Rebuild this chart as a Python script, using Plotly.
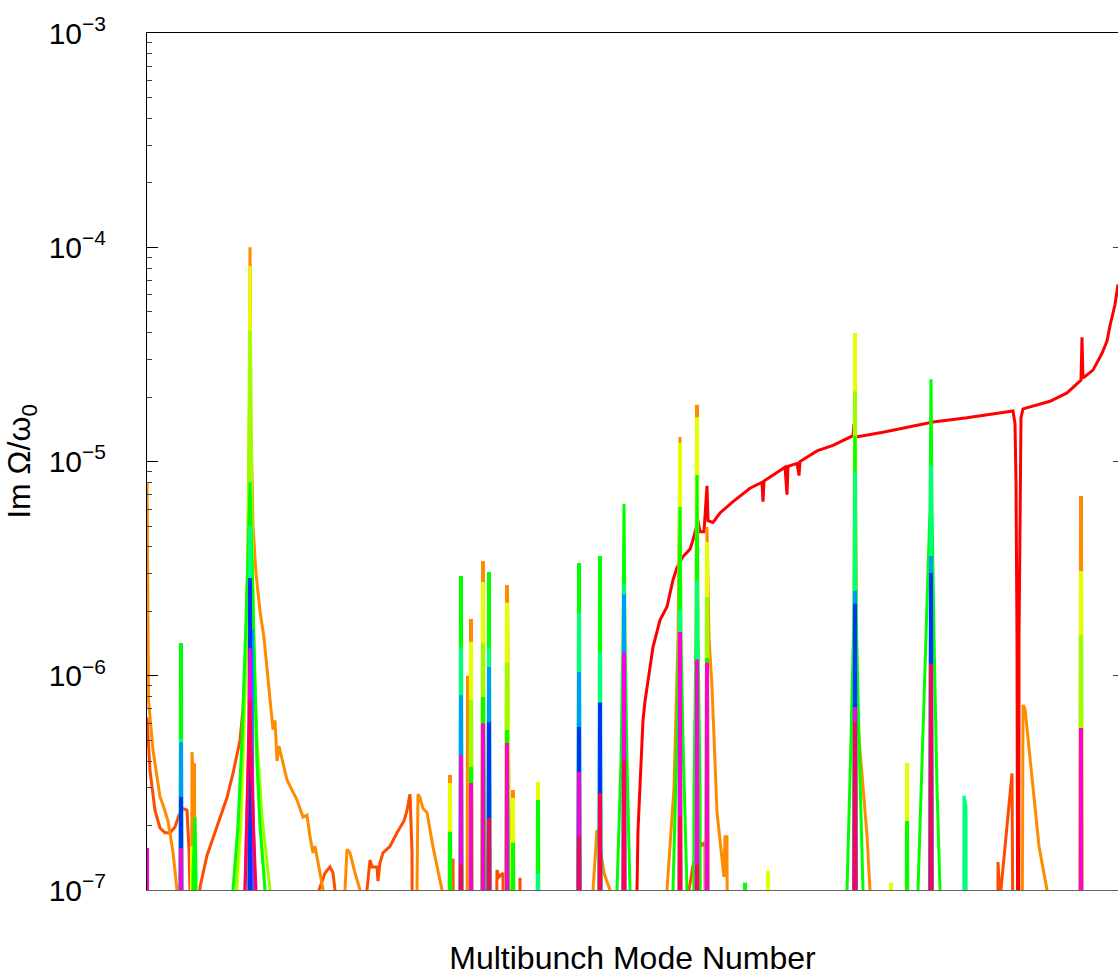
import plotly.graph_objects as go

LOW = 1e-9  # growth rate below the displayed range (damped / negligible)

# ---------------- axis ----------------
mode_range = [0, 971]
y_decades = [1e-7, 1e-6, 1e-5, 1e-4, 1e-3]
y_ticktext = ["10<sup>−7</sup>", "10<sup>−6</sup>", "10<sup>−5</sup>", "10<sup>−4</sup>", "10<sup>−3</sup>"]

# ---------------- continuous curves (mode number, Im Omega/omega0) ----------------
red_x = [489, 490, 491, 493, 496, 498, 501, 506, 513, 520, 526, 530, 536, 543, 546, 551, 553, 557, 560, 561,
         566, 573, 586, 603, 615, 616, 617, 638, 640, 641, 650, 652, 653, 670, 686, 706, 707, 709, 736, 786,
         820, 866, 868, 869, 870, 870.5, 871.5, 872, 873, 874, 876, 903, 920, 931, 934, 935, 936, 946, 955,
         960, 963, 968, 971]
red_y = [LOW, 1.0e-7, 1.9e-7, 3.3e-7, 6.2e-7, 7.6e-7, 9.6e-7, 1.36e-6, 1.82e-6, 2.1e-6, 2.8e-6, 3.2e-6, 3.6e-6,
         3.9e-6, 4.3e-6, 5.3e-6, 4.7e-6, 4.7e-6, 7.7e-6, 5.3e-6, 5.2e-6, 5.75e-6, 6.5e-6, 7.5e-6, 8.0e-6, 6.5e-6,
         8.1e-6, 9.4e-6, 7.0e-6, 9.5e-6, 9.8e-6, 8.6e-6, 1.0e-5, 1.12e-5, 1.19e-5, 1.32e-5, 1.5e-5, 1.3e-5,
         1.37e-5, 1.53e-5, 1.6e-5, 1.72e-5, 1.5e-5, 8e-6, 1.5e-6, LOW, LOW, 1.5e-6, 8e-6, 1.6e-5, 1.76e-5,
         1.91e-5, 2.09e-5, 2.35e-5, 2.4e-5, 3.8e-5, 2.45e-5, 2.67e-5, 3.2e-5, 3.65e-5, 4.3e-5, 5.4e-5, 6.7e-5]

orangered_x = [0, 3, 8, 13, 18, 23, 28, 32, 36, 40, 42, 43, 44,
               51, 53, 60, 67, 73, 80, 86, 93, 96, 99, 101, 103, 104,
               171, 172, 178, 183, 186, 188, 189,
               219, 220, 223, 225, 230, 231, 233, 236, 243, 250, 257, 260, 263, 265, 266,
               305, 306, 307, 345, 350, 352, 356, 357, 372, 373, 374,
               541, 542, 546, 553, 555, 558, 559,
               850, 851, 853, 865, 868]
orangered_y = [6.4e-7, 3.6e-7, 2.35e-7, 1.95e-7, 1.85e-7, 1.85e-7, 1.97e-7, 2.24e-7, 2.4e-7, 2.36e-7, 1.54e-7, 1.0e-7, LOW,
               LOW, 1.03e-7, 1.45e-7, 1.8e-7, 2.15e-7, 2.7e-7, 3.5e-7, 5.0e-7, 7.0e-7, 1.3e-6, 4e-6, 3e-5, LOW,
               LOW, 1.0e-7, 1.2e-7, 1.28e-7, 1.2e-7, 1.0e-7, LOW,
               LOW, 1.0e-7, 1.38e-7, 1.28e-7, 1.28e-7, 1.1e-7, 1.34e-7, 1.49e-7, 1.6e-7, 1.85e-7, 2.1e-7, 2.35e-7, 2.8e-7, 1.5e-7, LOW,
               LOW, 1.4e-7, LOW, LOW, 1.24e-7, 1.15e-7, 1.2e-7, LOW, LOW, 1.14e-7, LOW,
               LOW, 1.0e-7, 1.3e-7, 1.67e-7, 1.62e-7, 1.67e-7, LOW,
               LOW, 1.35e-7, 9e-8, 3.5e-7, LOW]

orange_x = [0, 0.5, 1.5, 6, 13, 16, 21, 26, 30, 31,
            44, 45, 46, 47.5, 49,
            101, 103, 104, 106, 109, 113, 117, 120, 123, 126, 128, 130, 132, 140, 150, 156, 160, 163, 166, 168, 173, 176, 177,
            197, 198, 200, 203, 208, 213, 214,
            269, 270, 271, 273, 276, 280, 286, 290, 295, 296,
            445, 446, 450, 452, 457, 463, 464,
            518, 520, 527, 531, 533, 534,
            559, 560, 562, 565, 570, 575, 577, 578, 580, 581,
            707, 708, 710, 713, 716, 720, 723, 724,
            874, 875, 876, 878, 885, 892, 900, 901]
orange_y = [8e-6, 2e-6, 7.7e-7, 4.5e-7, 2.72e-7, 2.5e-7, 2.1e-7, 1.5e-7, 1e-7, LOW,
            LOW, 4.4e-7, 3.5e-7, 3.9e-7, LOW,
            LOW, 1e-4, 1.5e-5, 5e-6, 3e-6, 2e-6, 1.5e-6, 1.1e-6, 8e-7, 5.6e-7, 6.2e-7, 4.0e-7, 4.7e-7, 3.26e-7, 2.63e-7,
            2.19e-7, 2.24e-7, 1.77e-7, 1.49e-7, 1.6e-7, 1.2e-7, 1e-7, LOW,
            LOW, 1e-7, 1.55e-7, 1.49e-7, 1.2e-7, 1e-7, LOW,
            LOW, 1e-7, 2.8e-7, 2.7e-7, 2.4e-7, 2.3e-7, 1.59e-7, 1.3e-7, 1e-7, LOW,
            LOW, 1e-7, 1.91e-7, 1.7e-7, 1.2e-7, 1e-7, LOW,
            LOW, 1e-7, 3e-7, 1.5e-6, 1.3e-5, LOW,
            LOW, 4.95e-6, 1.5e-6, 8.9e-7, 2.3e-7, 1.35e-7, 1.15e-7, 1.77e-7, 1.77e-7, LOW,
            LOW, 2e-5, 7e-7, 4.5e-7, 3e-7, 1.8e-7, 1e-7, LOW,
            LOW, 1e-7, 7.3e-7, 7e-7, 3.4e-7, 1.6e-7, 1e-7, LOW]

yellow_x = [89, 90, 94, 97, 99, 101, 102, 103, 104, 105, 107, 109, 112, 118, 119]
yellow_y = [LOW, 1e-7, 2e-7, 5e-7, 1.2e-6, 4e-6, 1.5e-5, 8.15e-5, 1.5e-5, 4e-6, 1.2e-6, 5e-7, 2.5e-7, 1e-7, LOW]

chartreuse_x = [87, 89, 93, 96, 99, 101, 102, 103, 104, 105, 107, 110, 115, 123, 124]
chartreuse_y = [LOW, 1e-7, 2e-7, 5e-7, 1.2e-6, 4e-6, 1.2e-5, 4.1e-5, 1.2e-5, 4e-6, 1.2e-6, 5e-7, 2.2e-7, 1e-7, LOW]

green_x = [45, 46, 48, 49, 50,
           85, 86, 91, 95, 98, 101, 103, 105, 107, 110, 113, 118, 119,
           469, 470, 474, 476, 477, 478, 480, 483, 484,
           524, 526, 530, 532, 533, 534, 536, 540, 541,
           546, 547, 549, 550, 551, 553, 554,
           699, 700, 704, 707, 708, 709, 712, 716, 717,
           770, 771, 776, 780, 783, 784, 785, 787, 790, 793, 794]
green_y = [LOW, 1.2e-7, 2.19e-7, 1.2e-7, LOW,
           LOW, 1e-7, 2e-7, 5e-7, 1.2e-6, 3.5e-6, 8e-6, 3.5e-6, 1.2e-6, 4e-7, 2e-7, 1e-7, LOW,
           LOW, 1e-7, 4e-7, 1.5e-6, 6.33e-6, 1.5e-6, 4e-7, 1e-7, LOW,
           LOW, 1e-7, 5e-7, 1.5e-6, 6.13e-6, 1.5e-6, 5e-7, 1e-7, LOW,
           LOW, 3e-7, 1.5e-6, 8.65e-6, 1.5e-6, 3e-7, LOW,
           LOW, 1e-7, 5e-7, 2e-6, 1.32e-5, 2e-6, 5e-7, 1e-7, LOW,
           LOW, 1e-7, 5.6e-7, 2e-6, 6e-6, 2.42e-5, 6e-6, 1.5e-6, 3e-7, 1e-7, LOW]

springgreen_x = [816, 817, 819, 820]
springgreen_y = [LOW, 2.75e-7, 2.44e-7, LOW]

magenta_x = [97, 98, 100, 102, 103, 104, 106, 108, 109]
magenta_y = [LOW, 1e-7, 2.5e-7, 6e-7, 1.35e-6, 6e-7, 2.5e-7, 1e-7, LOW]

deeppink_x = [97, 98, 100, 102, 103, 104, 106, 109, 110]
deeppink_y = [LOW, 1e-7, 2.2e-7, 4.5e-7, 7.7e-7, 4.5e-7, 2.2e-7, 1e-7, LOW]

# ---------------- isolated narrow resonances (mode number, peak) ----------------
orange_modes = [303, 321, 324, 336, 360, 366, 550, 934]
orange_peaks = [3.44e-7, 1.0e-6, 1.84e-6, 3.43e-6, 2.65e-6, 2.93e-7, 1.84e-5, 6.9e-6]

yellow_modes = [45, 303, 324, 336, 360, 366, 391, 533, 550, 560, 621, 708, 744, 760, 934]
yellow_peaks = [1.6e-7, 3.16e-7, 1.44e-6, 2.74e-6, 2.19e-6, 2.69e-7, 3.19e-7, 1.22e-5, 1.61e-5, 4.21e-6,
                1.23e-7, 3.98e-5, 1.08e-7, 3.92e-7, 3.08e-6]

chartreuse_modes = [324, 336, 360, 560, 708, 934]
chartreuse_peaks = [7.7e-7, 1.42e-6, 1.15e-6, 2.33e-6, 2.13e-5, 1.55e-6]

green_modes = [34, 303, 314, 324, 336, 342, 360, 366, 391, 432, 453, 560, 598, 760]
green_peaks = [1.42e-6, 1.87e-7, 2.92e-6, 3.75e-7, 7.96e-7, 3.05e-6, 5.58e-7, 1.66e-7, 2.63e-7, 3.36e-6,
               3.62e-6, 1.21e-6, 1.08e-7, 2.1e-7]

springgreen_modes = [34, 103, 314, 342, 391, 432, 453, 477, 533, 550, 708, 784]
springgreen_peaks = [5.1e-7, 5e-6, 1.36e-6, 1.36e-6, 1.2e-7, 1.96e-6, 1.28e-6, 2.65e-6, 2.03e-6, 2.8e-6, 9.0e-6, 9.6e-6]

dodgerblue_modes = [34, 105, 314, 342, 432, 477, 708, 784]
dodgerblue_peaks = [4.9e-7, 1.65e-6, 8.1e-7, 1.1e-6, 1.04e-6, 2.4e-6, 2.49e-6, 3.62e-6]

blue_modes = [34, 103, 342, 432, 453, 708, 784]
blue_peaks = [2.72e-7, 2.86e-6, 6.1e-7, 5.76e-7, 7.5e-7, 2.17e-6, 3.02e-6]

magenta_modes = [0, 34, 314, 324, 336, 360, 432, 477, 533, 550, 560, 708, 934]
magenta_peaks = [1.57e-7, 1.57e-7, 4.26e-7, 3.16e-7, 6.0e-7, 4.86e-7, 3.56e-7, 1.28e-6, 1.6e-6, 1.19e-6,
                 1.15e-6, 7.15e-7, 5.7e-7]

deeppink_modes = [314, 342, 432, 453, 477, 533, 550, 708, 784]
deeppink_peaks = [1.31e-7, 2.17e-7, 1.77e-7, 2.84e-7, 4.04e-7, 2.19e-7, 1.31e-7, 6.1e-7, 1.14e-6]

colors = {
    "red": "#ff0000", "orangered": "#ff4d00", "orange": "#ff8c00", "yellow": "#e6ff00",
    "chartreuse": "#99ff00", "green": "#00ff00", "springgreen": "#00ff80", "dodgerblue": "#0099ff",
    "blue": "#0033ff", "magenta": "#ff00dd", "deeppink": "#ff0055",
}


def spikes(modes, peaks):
    xs, ys = [], []
    for m, p in zip(modes, peaks):
        xs += [m - 1, m, m + 1]
        ys += [LOW, p, LOW]
    return xs, ys


series = [
    ("red", red_x, red_y, [], []),
    ("orangered", orangered_x, orangered_y, [], []),
    ("orange", orange_x, orange_y, orange_modes, orange_peaks),
    ("yellow", yellow_x, yellow_y, yellow_modes, yellow_peaks),
    ("chartreuse", chartreuse_x, chartreuse_y, chartreuse_modes, chartreuse_peaks),
    ("green", green_x, green_y, green_modes, green_peaks),
    ("springgreen", springgreen_x, springgreen_y, springgreen_modes, springgreen_peaks),
    ("dodgerblue", [], [], dodgerblue_modes, dodgerblue_peaks),
    ("blue", [], [], blue_modes, blue_peaks),
    ("magenta", magenta_x, magenta_y, magenta_modes, magenta_peaks),
    ("deeppink", deeppink_x, deeppink_y, deeppink_modes, deeppink_peaks),
]

fig = go.Figure()
for name, cx, cy, sm, sp in series:
    col = colors[name]
    if cx:
        fig.add_trace(go.Scatter(x=cx, y=cy, mode="lines", line=dict(color=col, width=3),
                                 showlegend=False, hoverinfo="skip"))
    if sm:
        sx, sy = spikes(sm, sp)
        fig.add_trace(go.Scatter(x=sx, y=sy, mode="lines", line=dict(color=col, width=4),
                                 showlegend=False, hoverinfo="skip"))

# helper trace to activate the mirrored axes
fig.add_trace(go.Scatter(x=[None], y=[None], xaxis="x2", yaxis="y2", showlegend=False, hoverinfo="skip"))

minor_vals = [k * d for d in [1e-7, 1e-6, 1e-5, 1e-4] for k in range(2, 10)]
font_family = "Liberation Sans, Arial, Helvetica, sans-serif"

fig.update_layout(
    width=1118, height=976,
    margin=dict(l=147, r=0, t=33, b=86),
    paper_bgcolor="white", plot_bgcolor="white",
    font=dict(family=font_family, color="black"),
    xaxis=dict(range=mode_range, showline=True, linecolor="#666666", linewidth=1, showgrid=False,
               zeroline=False, showticklabels=False, ticks="",
               title=dict(text="Multibunch Mode Number", font=dict(size=32, family=font_family), standoff=58)),
    xaxis2=dict(range=mode_range, overlaying="x", side="top", showline=True, linecolor="black", linewidth=1,
                showgrid=False, zeroline=False, showticklabels=False, ticks=""),
    yaxis=dict(type="log", range=[-7, -3], showline=True, linecolor="black", linewidth=1,
               showgrid=False, zeroline=False, ticks="inside", ticklen=11, tickcolor="black",
               tickmode="array", tickvals=y_decades, ticktext=y_ticktext,
               tickfont=dict(size=30, family=font_family, color="black"), ticklabelstandoff=34,
               minor=dict(ticks="inside", ticklen=5, tickcolor="#444444", tickmode="array", tickvals=minor_vals,
                          showgrid=False),
               title=dict(text="Im Ω/ω<sub>0</sub>", font=dict(size=32, family=font_family), standoff=8)),
    yaxis2=dict(type="log", range=[-7, -3], overlaying="y", side="right", showline=False, showgrid=False,
                zeroline=False, ticks="inside", ticklen=5, tickcolor="#444444", tickmode="array",
                tickvals=y_decades, showticklabels=False),
)

fig.write_html("out.html", config={"displayModeBar": False},
               post_script="document.body.style.margin='0';document.body.style.overflow='hidden';")
